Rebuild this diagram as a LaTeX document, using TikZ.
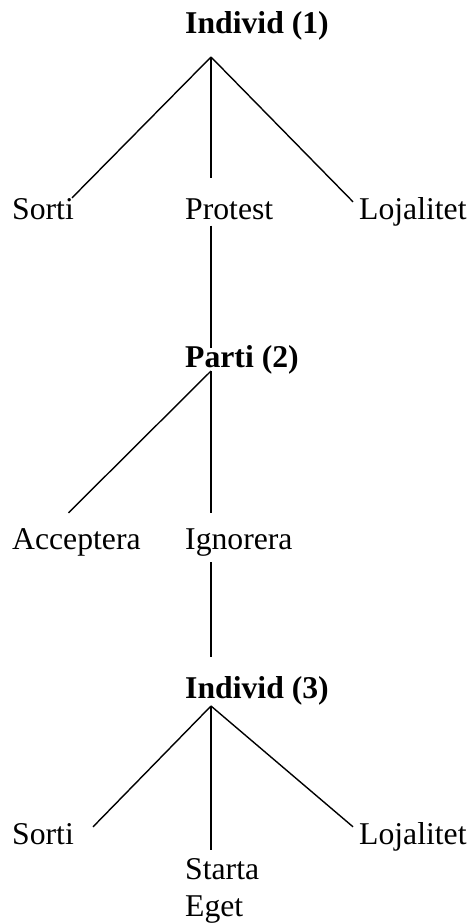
\documentclass[tikz,border=0pt]{standalone}
\usepackage{fontspec}
\setmainfont{Liberation Serif}
\begin{document}
\begin{tikzpicture}[
        x=1pt, y=-1pt,
        font=\fontsize{31.7}{37}\selectfont,
        label/.style={
            anchor=base west,
            inner sep=0pt,
            align=left
        },
        actor/.style={label, font=\fontsize{31.7}{37}\selectfont\bfseries},
        line/.style={draw, line width=1.4pt}
    ]
        \useasboundingbox (0,0) rectangle (470,923);

        \node[actor] (individ1) at (185,34) {Individ (1)};
        \node[label] (sorti1) at (12,219) {Sorti};
        \node[label] (protest) at (185,219) {Protest};
        \node[label] (lojal1) at (359,219) {Lojalitet};

        \coordinate (fork1) at (211,57);
        \draw[line] (fork1) -- ([xshift=-2pt]sorti1.north east);
        \draw[line, shorten >=20pt] (fork1) -- (fork1 |- protest.north);
        \draw[line] (fork1) -- ([xshift=-6pt,yshift=-5pt]lojal1.north west);

        \node[actor] (parti) at (185,367) {Parti (2)};
        \draw[line, shorten <=6pt, shorten >=-3pt] (fork1 |- protest.south) -- (fork1 |- parti.north);

        \node[label] (accept) at (12,549) {Acceptera};
        \node[label] (ignore) at (185,549) {Ignorera};

        \coordinate (fork2) at (211,371);
        \draw[line] (fork2) -- ([xshift=-8pt,yshift=15pt]accept.north);
        \draw[line, shorten >=15pt] (fork2) -- (fork2 |- ignore.north);

        \node[actor] (individ3) at (185,698) {Individ (3)};
        \draw[line, shorten <=6pt, shorten >=19pt] (fork2 |- ignore.south) -- (fork2 |- individ3.north);

        \node[label] (sorti3) at (12,844) {Sorti};
        \node[label] (starta) at (185,916) {Starta\\Eget};
        \node[label] (lojal3) at (359,844) {Lojalitet};

        \coordinate (fork3) at (211,706);
        \draw[line] (fork3) -- ([xshift=19pt,yshift=-4pt]sorti3.north east);
        \draw[line, shorten >=8pt] (fork3) -- (fork3 |- starta.north);
        \draw[line] (fork3) -- ([xshift=-6pt,yshift=-5pt]lojal3.north west);
    \end{tikzpicture}
\end{document}
